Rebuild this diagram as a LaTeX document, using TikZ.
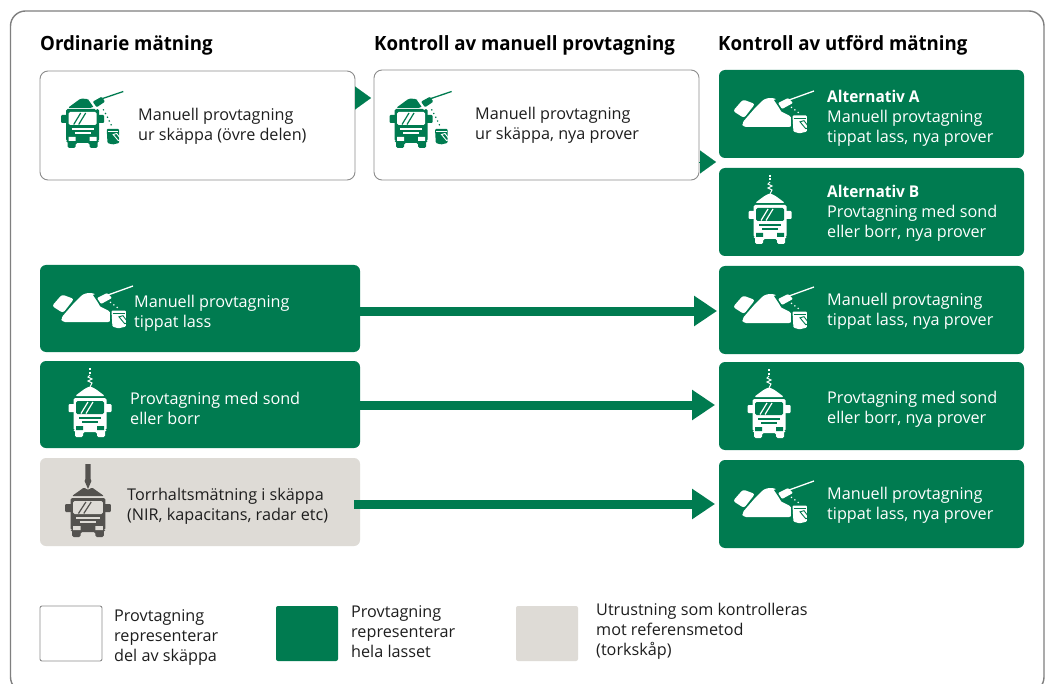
\documentclass[tikz,border=0pt]{standalone}
\usepackage{fontspec}
\setmainfont[BoldFeatures={FakeStretch=0.952}]{Open Sans}
\usetikzlibrary{arrows.meta,calc}
\definecolor{brandgreen}{HTML}{007B50}
\definecolor{lightgrey}{HTML}{DEDBD6}
\definecolor{icongrey}{HTML}{54524F}
\definecolor{framegrey}{HTML}{7F7F7F}
\definecolor{boxgrey}{HTML}{8C8C8C}
\definecolor{inktext}{HTML}{1E1E1E}
\tikzset{
  plainbox/.style={inner sep=0pt,outer sep=0pt},
  whitebox/.style={plainbox,draw=boxgrey,line width=0.9pt,fill=white,rounded corners=8pt},
  greenbox/.style={plainbox,fill=brandgreen,rounded corners=6pt,minimum width=305pt,minimum height=88pt},
  leftgreen/.style={greenbox,minimum width=320pt,minimum height=87pt},
  greybox/.style={plainbox,fill=lightgrey,rounded corners=6pt,minimum width=320pt,minimum height=88pt},
  legendbox/.style={plainbox,rounded corners=2pt,minimum width=62pt,minimum height=55pt},
  lab/.style={anchor=west,align=left,inner sep=0pt,text=inktext,font=\fontsize{16.2}{19.8}\selectfont},
  wlab/.style={lab,text=white},
  head/.style={anchor=base west,inner sep=0pt,text=black,font=\fontsize{19.6}{24}\selectfont\bfseries},
  bigarrow/.style={draw=brandgreen,line width=9pt,-{Triangle[length=23pt,width=29pt]}},
  smallarrow/.style={draw=brandgreen,line width=0.1pt,-{Triangle[length=16pt,width=23pt]},shorten >=3pt},
  truck/.pic={
    \fill[fg,rounded corners=1.5pt] (-16.5,1) -- (16.5,1) -- (16.5,33) -- (15,33) -- (15,40) -- (7,40) -- (7,35) -- (-7,35) -- (-7,40) -- (-15,40) -- (-15,33) -- (-16.5,33) -- cycle;
    \fill[fg,rounded corners=1pt] (-21.5,7) rectangle (-15,15);
    \fill[fg,rounded corners=1pt] (15,7) rectangle (21.5,15);
    \fill[bg,rounded corners=1.5pt] (-14,4) rectangle (14,17);
    \draw[fg,line width=1.2pt] (-9,16.5) -- (-2,5) (-4,16.5) -- (3,5);
    \draw[bg,line width=1.1pt] (-11,21) -- (11,21) (-8,25) -- (8,25);
    \fill[bg] (-14,29) rectangle (-7,33) (7,29) rectangle (14,33);
  },
  cabpile/.pic={
    \fill[fg,rounded corners=1.5pt] (-15,0) -- (-2,-9.5) -- (5,-9) -- (13,-3.5) -- (9,0) -- cycle;
  },
  bucket/.pic={
    \fill[fg,rounded corners=1pt] (0,0) -- (12.5,0) -- (12.5,14) -- (6,15.5) -- (0.8,14) -- cycle;
    \draw[bg,line width=0.9pt] (1,2.4) -- (11.5,2.4);
    \draw[bg,line width=0.9pt] (6.5,5.5) -- (10,4.5) -- (14.5,10.5) -- (11.5,11.5) -- cycle;
  },
  probedots/.style={fg,line width=1.2pt,dash pattern=on 1.2pt off 3pt},
  manualtruck/.pic={
    \pic {truck};
    \pic {cabpile};
    \fill[bg] (6,-8) -- (20,-14) -- (25,-5) -- (13,2) -- cycle;
    \fill[fg,rounded corners=1pt] (10,-6.3) -- (19,-11.3) -- (22.3,-6.3) -- (14,-0.7) -- cycle;
    \draw[fg,line width=1.3pt] (20,-9.5) -- (40.6,-16.5);
    \draw[probedots] (20.5,1.3) -- (24.5,8.7) -- (29,18);
    \pic at (24,21) {bucket};
  },
  sondetruck/.pic={
    \pic {truck};
    \fill[fg,rounded corners=1.5pt] (-15,-1) -- (-7,-7) -- (-3,-9.5) -- (0,-10.5) -- (3,-9.5) -- (7,-7) -- (15,-1) -- cycle;
    \draw[fg,line width=1.3pt,dash pattern=on 2pt off 1.5pt] (0,-29) -- (0,-22);
    \draw[fg,line width=1pt] (0,-22) -- (-2,-20) -- (2,-18) -- (-2,-16) -- (2,-14) -- (0,-10);
  },
  greytruck/.pic={
    \pic[xscale=1.06] {truck};
    \fill[fg,rounded corners=1pt] (-16,-1) -- (-4,-9.5) -- (0,-7) -- (4,-9.5) -- (16,-1) -- cycle;
    \fill[fg] (-2.6,-33) -- (2.6,-33) -- (2.6,-18) -- (3.4,-16) -- (0,-8) -- (-3.4,-16) -- (-2.6,-18) -- cycle;
  },
  pileicon/.pic={
    \fill[fg,rounded corners=2.5pt] (8,31) -- (18,19.5) -- (30,24) -- (19,38) -- cycle;
    \fill[fg,rounded corners=3pt] (18,47) -- (17,43) -- (30,28) -- (39,19) -- (47,17.5) -- (53,20) -- (55,31) -- (67,37) -- (67,47) -- cycle;
    \fill[bg] (49,20) -- (64,14) -- (70,24) -- (57,32) -- cycle;
    \fill[fg,rounded corners=1pt] (53,23) -- (63,18) -- (68,23) -- (57,29) -- cycle;
    \draw[fg,line width=1.3pt] (64,20) -- (89,11);
    \draw[probedots] (66,27) -- (74,33);
    \fill[bg] (65.5,34) rectangle (84,53);
    \pic[scale=1.15] at (67.5,35.5) {bucket};
  },
}
\newcommand{\fgbg}[2]{\colorlet{fg}{#1}\colorlet{bg}{#2}}
\begin{document}
\begin{tikzpicture}[x=1pt,y=-1pt]
\useasboundingbox (0,0) rectangle (1048,684);
\clip (0,0) rectangle (1048,684);
\fill[white] (0,0) rectangle (1048,684);
\path[draw=framegrey,line width=1.4pt,rounded corners=15pt] (10.5,11) rectangle (1044,692);
% headings
\node[head] (h1) at (40,50.5) {Ordinarie mätning};
\node[head] (h2) at (374,50.5) {Kontroll av manuell provtagning};
\node[head] (h3) at (718,50.5) {Kontroll av utförd mätning};
% boxes
\node[whitebox,minimum width=315pt,minimum height=109pt] (A) at (197.5,125.5) {};
\node[whitebox,minimum width=325pt,minimum height=110pt] (B) at (536.5,125) {};
\node[greenbox] (C1) at (871.5,114) {};
\node[greenbox] (C2) at (871.5,212) {};
\node[leftgreen] (L2) at (200,308.5) {};
\node[greenbox] (R2) at (871.5,310) {};
\node[leftgreen] (L3) at (200,404.5) {};
\node[greenbox] (R3) at (871.5,406) {};
\node[greybox] (L4) at (200,502) {};
\node[greenbox] (R4) at (871.5,504) {};
% connectors (y grows downward here, so a negative yshift moves down on the page)
\draw[bigarrow,shorten >=2pt] ([yshift=-2.5pt]L2.east) -- ([yshift=-1pt]R2.west);
\draw[bigarrow,shorten >=4pt] ([yshift=-0.5pt]L3.east) -- ([yshift=1pt]R3.west);
\draw[bigarrow,shorten >=4pt,shorten <=-6pt] ([yshift=-2pt]L4.east) -- (R4.west);
\draw[smallarrow] ([yshift=27.5pt]A.east) -- ([yshift=27pt]B.west);
\draw[smallarrow] ([yshift=-37pt]B.east) -- ([yshift=-48pt]C1.west);
% icons
\fgbg{brandgreen}{white}
\pic at (82.7,108) {manualtruck};
\pic at (411,108) {manualtruck};
\fgbg{white}{brandgreen}
\pic at (725,80) {pileicon};
\pic at (770,204) {sondetruck};
\pic at (44,275) {pileicon};
\pic at (725,276) {pileicon};
\pic at (90,397) {sondetruck};
\pic at (769,398) {sondetruck};
\pic at (725,470) {pileicon};
\fgbg{icongrey}{lightgrey}
\pic at (88,497) {greytruck};
% labels
\node[lab] (ta) at (138,126) {Manuell provtagning\\ur skäppa (övre delen)};
\node[lab] (tb) at (475,125.5) {Manuell provtagning\\ur skäppa, nya prover};
\node[wlab] (tc1) at (827,118) {\textbf{Alternativ A}\\Manuell provtagning\\tippat lass, nya prover};
\node[wlab] (tc2) at (827,213) {\textbf{Alternativ B}\\Provtagning med sond\\eller borr, nya prover};
\node[wlab] (tl2) at (134,313) {Manuell provtagning\\tippat lass};
\node[wlab] (tr2) at (827,311) {Manuell provtagning\\tippat lass, nya prover};
\node[wlab] (tl3) at (130,408.5) {Provtagning med sond\\eller borr};
\node[wlab] (tr3) at (827,409) {Provtagning med sond\\eller borr, nya prover};
\node[lab] (tl4) at (127,506) {Torrhaltsmätning i skäppa\\(NIR, kapacitans, radar etc)};
\node[wlab] (tr4) at (827,505) {Manuell provtagning\\tippat lass, nya prover};
% legend
\node[legendbox,draw=boxgrey,line width=0.9pt,fill=white] (k1) at (71,633.5) {};
\node[legendbox,fill=brandgreen] (k2) at (307,633.5) {};
\node[legendbox,fill=lightgrey] (k3) at (547,633.5) {};
\node[lab] (l1) at (114,637.5) {Provtagning\\representerar\\del av skäppa};
\node[lab] (l2) at (351,631.5) {Provtagning\\representerar\\hela lasset};
\node[lab] (l3) at (596,631.5) {Utrustning som kontrolleras\\mot referensmetod\\(torkskåp)};
\end{tikzpicture}
\end{document}
